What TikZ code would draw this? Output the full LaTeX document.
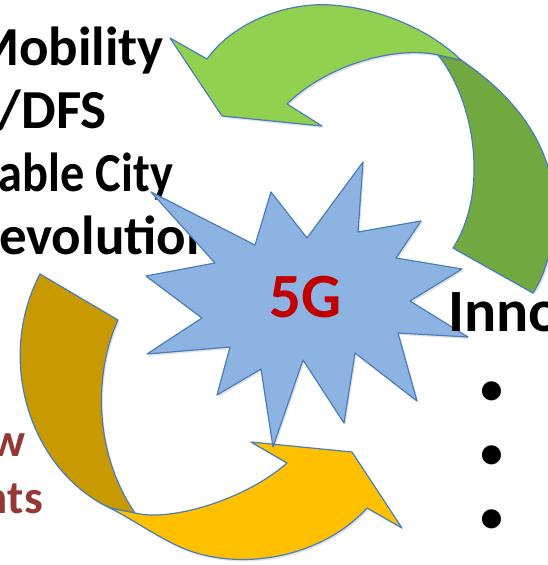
\documentclass[tikz,border=0pt]{standalone}
\usepackage{fontspec}
\usetikzlibrary{shadows}
\setmainfont{Carlito}
\newfontfamily\condfont[FakeStretch=0.88]{Carlito}
\definecolor{edge}{HTML}{4A7EBB}
\definecolor{lgreen}{HTML}{92D050}
\definecolor{dgreen}{HTML}{71A840}
\definecolor{lyellow}{HTML}{FFC000}
\definecolor{dyellow}{HTML}{C99A00}
\definecolor{starfill}{HTML}{8DB3E2}
\definecolor{fivered}{HTML}{C00000}
\definecolor{brownred}{HTML}{953735}
\tikzset{
  blob/.style={draw=edge, line width=1.2pt, line join=round,
    drop shadow={opacity=0.18, shadow xshift=1.5pt, shadow yshift=-2pt, fill=black!60}},
  blacktext/.style={inner sep=0pt, font=\fontsize{55}{63}\selectfont\bfseries, text=black},
  redtext/.style={inner sep=0pt, font=\fontsize{47}{57}\selectfont\bfseries, text=brownred},
  bullettext/.style={inner sep=0pt, font=\fontsize{54}{63}\selectfont, text=black}
}
\begin{document}
\begin{tikzpicture}[x=1pt,y=-1pt]
\useasboundingbox (0,0) rectangle (548,565);
\clip (0,0) rectangle (548,565);
\fill[white] (0,0) rectangle (548,565);
% left text
\node[blacktext, anchor=base east] (t1) at (164,65) {Smart Mobility};
\node[blacktext, anchor=base east] (t2) at (107,128) {r/DFS};
\node[blacktext, font=\fontsize{55}{63}\condfont\bfseries, anchor=base east] (t3) at (173,191) {Sustainable City};
\node[blacktext, anchor=base east] (t4) at (216,254) {Revolution};
\node[redtext, anchor=base east] (r1) at (26,456) {New};
\node[redtext, anchor=base east] (r2) at (43,513) {Requirements};
% green arrow
\path[blob, fill=dgreen] (438,55) -- (461,60)
  .. controls (520,100) and (555,150) .. (555,215)
  .. controls (552,250) and (545,275) .. (533,293)
  -- (453,248)
  .. controls (490,190) and (474,100) .. (438,55) -- cycle;
\path[blob, fill=lgreen] (438,55)
  .. controls (400,46) and (330,62) .. (287,104)
  -- (322,126) -- (222,116) -- (170,38) -- (207,59)
  .. controls (235,20) and (290,2) .. (331,5)
  .. controls (380,8) and (430,30) .. (461,60) -- cycle;
% yellow arrow
\path[blob, fill=dyellow] (40,274) -- (118,320)
  .. controls (95,370) and (92,450) .. (135,513)
  -- (110,508)
  .. controls (30,470) and (-5,360) .. (40,274) -- cycle;
\path[blob, fill=lyellow] (135,513)
  .. controls (170,522) and (245,500) .. (287,463)
  -- (251,442) -- (352,452) -- (402,528) -- (367,508)
  .. controls (320,560) and (230,575) .. (170,542)
  .. controls (150,532) and (130,518) .. (110,508) -- cycle;
% star
\path[blob, fill=starfill] (151,192) -- (255,245) -- (271,192) -- (307,238)
  -- (363,162) -- (358,232) -- (421,221) -- (396,258) -- (462,269)
  -- (410,301) -- (468,337) -- (398,333) -- (417,401) -- (355,353)
  -- (344,423) -- (303,360) -- (273,447) -- (261,369) -- (217,395)
  -- (230,347) -- (147,354) -- (202,318) -- (146,276) -- (215,263) -- cycle;
\node[inner sep=0pt, anchor=base, font=\fontsize{63}{70}\selectfont\bfseries, text=fivered] (g) at (306,317) {5G};
% right text
\node[blacktext, font=\fontsize{60}{63}\selectfont\bfseries, anchor=base west] (inno) at (448,331) {Innovation};
\node[bullettext, anchor=base] (b1) at (492,406) {•};
\node[bullettext, anchor=base] (b2) at (492,470) {•};
\node[bullettext, anchor=base] (b3) at (492,534) {•};
\end{tikzpicture}
\end{document}
